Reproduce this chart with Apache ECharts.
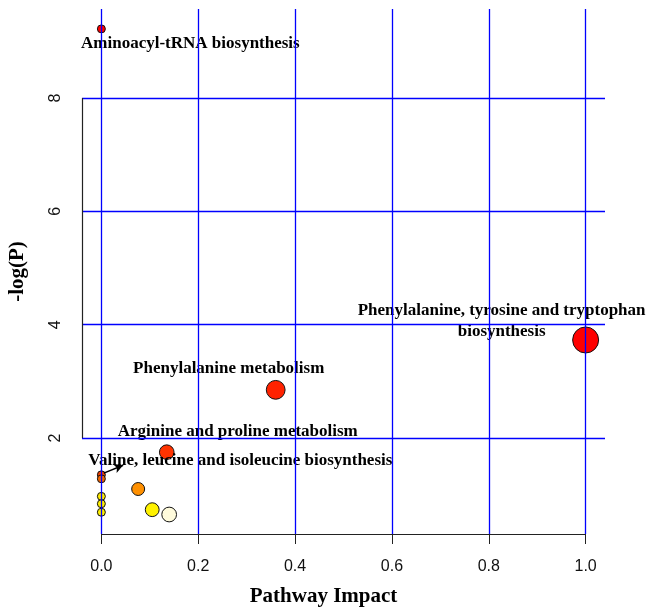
<!DOCTYPE html>
<html>
<head>
<meta charset="utf-8">
<script src="https://cdn.jsdelivr.net/npm/echarts@6/dist/echarts.min.js"></script>
<style>
  html, body { margin: 0; padding: 0; background: #fff; }
  #chart { width: 652px; height: 609px; }
</style>
</head>
<body>
<div id="chart"></div>
<script>
  // pathway analysis: impact vs -log(P)
  const pathways = [
    'Aminoacyl-tRNA biosynthesis',
    'Phenylalanine, tyrosine and tryptophan biosynthesis',
    'Phenylalanine metabolism',
    'Arginine and proline metabolism',
    'Valine, leucine and isoleucine biosynthesis',
    'pathway 6', 'pathway 7', 'pathway 8', 'pathway 9', 'pathway 10', 'pathway 11', 'pathway 12'
  ]
  const impact = [0.0, 1.0, 0.36, 0.135, 0.0, 0.0, 0.076, 0.0, 0.0, 0.0, 0.105, 0.14]
  const logP = [9.22, 3.73, 2.85, 1.75, 1.35, 1.28, 1.10, 0.97, 0.84, 0.69, 0.735, 0.65]
  const labeled = pathways.slice(0, 5)

  const xTicks = [0, 0.2, 0.4, 0.6, 0.8, 1.0]
  const yTicks = [2, 4, 6, 8]

  // colours (heat scale) and label offsets, kept apart from data
  const pointColors = ['#ff0000', '#ff0000', '#ff2200', '#ff3300', '#f24000', '#f06400',
    '#ff9000', '#ffea00', '#ffee00', '#fff000', '#fff200', '#fffbdc']
  const labelOffsets = {
    'Aminoacyl-tRNA biosynthesis': [89, 15],
    'Phenylalanine, tyrosine and tryptophan biosynthesis': [-84, -19],
    'Phenylalanine metabolism': [-47, -21],
    'Arginine and proline metabolism': [71, -21],
    'Valine, leucine and isoleucine biosynthesis': [139, -14]
  }
  const labelText = {
    'Phenylalanine, tyrosine and tryptophan biosynthesis': 'Phenylalanine, tyrosine and tryptophan\nbiosynthesis'
  }

  const xMin = -0.04, xMax = 1.04
  const yMin = 0.306, yMax = 9.571
  const serif = '"Liberation Serif", "Times New Roman", serif'
  const sans = '"Liberation Sans", Arial, sans-serif'

  const myChart = echarts.init(document.getElementById('chart'))

  let points = impact.map((x, i) => {
    let name = pathways[i]
    let show = labeled.indexOf(name) >= 0
    return {
      name: name,
      value: [x, logP[i]],
      itemStyle: { color: pointColors[i] },
      label: {
        show: show,
        formatter: labelText[name] || name
      }
    }
  })

  // gridlines + R-style axis lines
  let gridLines = []
  xTicks.forEach((v) => gridLines.push({ xAxis: v }))
  yTicks.forEach((v) => gridLines.push({ yAxis: v }))

  let axisLines = [
    [{ coord: [xTicks[0], yMin] }, { coord: [xTicks[xTicks.length - 1], yMin] }],
    [{ coord: [xMin, yTicks[0]] }, { coord: [xMin, yTicks[yTicks.length - 1]] }]
  ]

  let option = {
    animation: false,
    grid: {
      left: 82,
      right: 47,
      top: 9,
      bottom: 75,
      containLabel: false,
      outerBoundsMode: 'none'
    },
    xAxis: {
      type: 'value',
      min: xMin,
      max: xMax,
      name: 'Pathway Impact',
      nameLocation: 'middle',
      nameGap: 52,
      nameTextStyle: {
        fontFamily: serif,
        fontWeight: 'bold',
        fontSize: 21,
        color: '#000',
        padding: [0, 40, 0, 0]
      },
      axisLine: { show: false },
      splitLine: { show: false },
      axisTick: {
        show: true,
        customValues: xTicks,
        length: 10,
        lineStyle: { color: '#222', width: 1 }
      },
      axisLabel: {
        customValues: xTicks,
        margin: 25,
        fontFamily: sans,
        fontSize: 16,
        color: '#111',
        formatter: (v) => v.toFixed(1)
      }
    },
    yAxis: {
      type: 'value',
      min: yMin,
      max: yMax,
      name: '-log(P)',
      nameLocation: 'middle',
      nameGap: 54,
      nameTextStyle: {
        fontFamily: serif,
        fontWeight: 'bold',
        fontSize: 21,
        color: '#000'
      },
      axisLine: { show: false },
      splitLine: { show: false },
      axisTick: {
        show: true,
        customValues: yTicks,
        length: 9,
        lineStyle: { color: '#222', width: 1 }
      },
      axisLabel: {
        customValues: yTicks,
        rotate: 90,
        margin: 18,
        fontFamily: sans,
        fontSize: 16,
        color: '#111'
      }
    },
    series: [{
      // gridlines / axis segments
      type: 'scatter',
      data: [],
      silent: true,
      z: 1,
      markLine: {
        silent: true,
        symbol: 'none',
        label: { show: false },
        lineStyle: { color: '#0000ff', width: 1.3, type: 'solid' },
        data: gridLines
      }
    }, {
      type: 'scatter',
      data: [],
      silent: true,
      z: 3,
      markLine: {
        silent: true,
        symbol: 'none',
        label: { show: false },
        lineStyle: { color: '#222', width: 1.2, type: 'solid' },
        data: axisLines
      }
    }, {
      type: 'scatter',
      z: 4,
      data: points,
      symbolSize: (v) => 8 + 18 * Math.sqrt(v[0]),
      itemStyle: {
        borderColor: '#111',
        borderWidth: 1,
        opacity: 1
      },
      label: {
        position: 'inside',
        fontFamily: serif,
        fontWeight: 'bold',
        fontSize: 17,
        lineHeight: 21,
        color: '#000',
        align: 'center',
        verticalAlign: 'middle'
      },
      labelLayout: (params) => {
        let off = labelOffsets[pathways[params.dataIndex]] || [0, 0]
        return { dx: off[0], dy: off[1], hideOverlap: false }
      },
      markLine: {
        silent: true,
        symbol: ['none', 'arrow'],
        symbolSize: [7, 9],
        label: { show: false },
        lineStyle: { color: '#000', width: 1.5, type: 'solid' },
        data: [[{ coord: [impact[4] + 0.005, logP[4] + 0.03] }, { coord: [impact[4] + 0.045, logP[4] + 0.17] }]]
      }
    }]
  }

  myChart.setOption(option)
  window.addEventListener('resize', () => myChart.resize())
</script>
</body>
</html>
